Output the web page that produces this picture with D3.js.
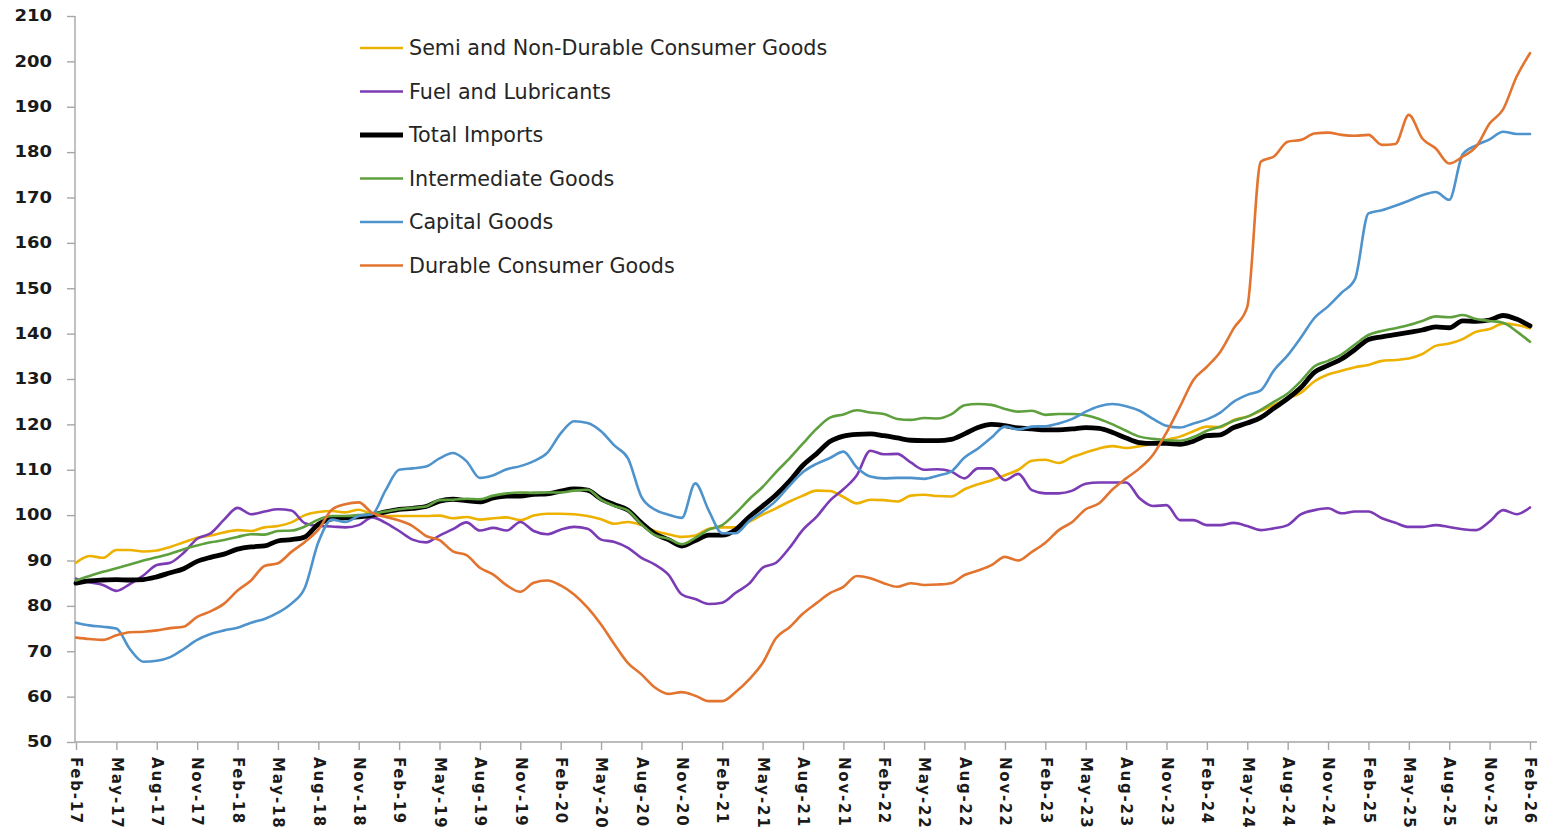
<!DOCTYPE html>
<meta charset="utf-8">
<style>
body { margin: 0; background: #fff; }
.axis line, .axis-line { stroke: #a6a6a6; stroke-width: 1.4px; }
.axis text { font: bold 15px "DejaVu Sans", sans-serif; fill: #1a1a1a; }
.legend text { font: 20.7px "DejaVu Sans", sans-serif; fill: #262626; }
.series { fill: none; stroke-linejoin: round; stroke-linecap: round; }
</style>
<svg width="1547" height="839"></svg>
<script src="https://d3js.org/d3.v7.min.js"></script>
<script>

// monthly index values, Feb-17 .. Feb-26 (109 months)
var semi = [89.5, 91, 90.6, 92.3, 92.3, 92, 92.2, 93, 94, 95, 95.5, 96.2,
  96.7, 96.5, 97.3, 97.6, 98.4, 100, 100.7, 100.9, 100.6, 101.2, 100.2, 99.8,
  99.8, 99.8, 99.8, 99.9, 99.3, 99.6, 99, 99.3, 99.5, 98.9, 99.9, 100.3,
  100.3, 100.2, 99.8, 99.1, 98.1, 98.5, 97.8, 96.5, 95.8, 95.2, 95.5, 97,
  97.3, 97.3, 98.5, 100.1, 101.5, 103, 104.3, 105.4, 105.3, 104, 102.6, 103.4,
  103.3, 103, 104.3, 104.5, 104.2, 104.1, 105.7, 106.8, 107.7, 108.8, 110, 112,
  112.2, 111.5, 112.8, 113.8, 114.7, 115.2, 114.8, 115.2, 115.8, 116.6, 117.3, 118.5,
  119.5, 119.4, 121, 121.7, 123, 124.3, 125.7, 127, 129.5, 131, 131.8, 132.6,
  133.1, 134, 134.2, 134.5, 135.5, 137.3, 137.8, 138.8, 140.4, 141, 142.2, 141.9,
  141.2];

var fuel = [86, 85.2, 84.6, 83.3, 84.8, 86.7, 89, 89.5, 91.7, 94.8, 96, 99,
  101.6, 100.2, 100.8, 101.3, 101, 98.2, 97.6, 97.5, 97.3, 97.8, 99.5, 98.3,
  96.5, 94.6, 94, 95.5, 96.9, 98.4, 96.6, 97.2, 96.6, 98.5, 96.5, 95.8,
  96.8, 97.4, 97, 94.6, 94.1, 92.8, 90.6, 89.1, 86.9, 82.5, 81.5, 80.4,
  80.7, 82.9, 84.9, 88.4, 89.5, 92.8, 96.8, 99.6, 103.2, 105.7, 108.8, 114.2,
  113.4, 113.5, 111.6, 110, 110.1, 109.6, 108.1, 110.3, 110.3, 107.7, 109.1, 105.5,
  104.8, 104.8, 105.4, 106.9, 107.2, 107.2, 107.2, 103.7, 102, 102.2, 98.9, 98.9,
  97.8, 97.8, 98.3, 97.6, 96.7, 97.1, 97.8, 100.2, 101.1, 101.5, 100.4, 100.8,
  100.8, 99.3, 98.3, 97.4, 97.4, 97.8, 97.4, 96.9, 96.7, 98.6, 101.1, 100.2,
  101.7];

var total = [85, 85.5, 85.7, 85.8, 85.7, 85.8, 86.4, 87.3, 88.2, 89.8, 90.7, 91.4,
  92.5, 93, 93.2, 94.3, 94.6, 95.2, 98, 99.2, 99.4, 99.6, 100, 100.7,
  101.25, 101.5, 101.9, 103.1, 103.5, 103.2, 102.9, 103.8, 104.2, 104.2, 104.6, 104.7,
  105.3, 105.8, 105.5, 103.6, 102.3, 101.1, 98.3, 95.9, 94.6, 93.2, 94.4, 95.6,
  95.6, 96.8, 99.6, 102, 104.5, 107.5, 111, 113.5, 116.2, 117.4, 117.8, 117.9,
  117.5, 117, 116.5, 116.4, 116.4, 116.7, 117.9, 119.3, 120, 119.7, 119.2, 119,
  118.8, 118.8, 119, 119.3, 119.1, 118.2, 117, 116, 115.8, 115.8, 115.6, 116.3,
  117.5, 117.7, 119.3, 120.3, 121.5, 123.6, 125.7, 128.2, 131.5, 133, 134.4, 136.5,
  138.7, 139.3, 139.8, 140.3, 140.8, 141.5, 141.3, 142.8, 142.7, 143, 144, 143.2,
  141.7];

var intermediate = [85.6, 86.6, 87.5, 88.3, 89.1, 90, 90.7, 91.5, 92.5, 93.3, 94, 94.5,
  95.2, 95.8, 95.7, 96.5, 96.6, 97.5, 99, 99.8, 99.8, 100, 100.3, 100.8,
  101.3, 101.6, 101.9, 103.3, 103.4, 103.6, 103.5, 104.3, 104.8, 105, 104.9, 105,
  105, 105.4, 105.6, 103.4, 102, 101, 98, 95.6, 94.8, 93.6, 95, 96.8,
  97.8, 100.4, 103.5, 106.2, 109.5, 112.5, 115.8, 119, 121.5, 122.2, 123.1, 122.6,
  122.3, 121.2, 121, 121.4, 121.3, 122.2, 124.2, 124.5, 124.3, 123.4, 122.8, 123,
  122.1, 122.3, 122.3, 122, 121.2, 120, 118.6, 117.3, 116.8, 116.5, 116.4, 117.2,
  118.6, 119.5, 120.8, 121.7, 123.2, 125, 126.8, 129.6, 132.8, 134, 135.4, 137.6,
  139.7, 140.6, 141.2, 141.9, 142.8, 143.8, 143.6, 144.1, 143.2, 142.8, 142.4, 140.5,
  138.2];

var capital = [76.3, 75.7, 75.4, 75, 70.5, 67.7, 67.9, 68.7, 70.5, 72.5, 73.8, 74.6,
  75.2, 76.3, 77.1, 78.5, 80.5, 84, 94, 99, 98.5, 99.8, 100.2, 105.5,
  110, 110.3, 110.7, 112.5, 113.7, 111.9, 108.2, 108.8, 110.1, 110.8, 111.9, 113.7,
  118, 120.7, 120.3, 118.5, 115.3, 112.5, 104, 101.2, 100.1, 99.4, 107, 101,
  96, 96, 98.7, 100.8, 103.2, 106.5, 109.5, 111.3, 112.6, 114, 110.5, 108.5,
  108.1, 108.2, 108.2, 108, 108.7, 109.6, 112.7, 114.7, 117.1, 119.5, 118.9, 119.5,
  119.6, 120.2, 121.2, 122.8, 124, 124.5, 124, 123, 121.2, 119.7, 119.3, 120.2,
  121.1, 122.6, 125, 126.5, 127.5, 132, 135.2, 139.2, 143.5, 146, 149, 152,
  166.5, 167.2, 168.2, 169.3, 170.5, 171.2, 169.5, 179.5, 181.5, 182.8, 184.5, 184,
  184];

var durable = [73, 72.7, 72.5, 73.5, 74.2, 74.3, 74.6, 75.1, 75.4, 77.6, 78.8, 80.5,
  83.4, 85.6, 88.8, 89.4, 91.9, 94.1, 96.8, 101.2, 102.4, 102.8, 100.5, 99.6,
  98.8, 97.6, 95.4, 94.5, 92, 91.2, 88.4, 86.9, 84.5, 83.1, 85.1, 85.6,
  84.5, 82.5, 79.6, 75.9, 71.5, 67.4, 64.9, 62, 60.6, 61, 60.2, 59,
  59, 61, 63.8, 67.4, 72.9, 75.3, 78.3, 80.6, 82.8, 84.2, 86.6, 86.1,
  85, 84.2, 85, 84.6, 84.7, 85, 86.8, 87.8, 89, 90.8, 90, 91.9,
  93.9, 96.7, 98.5, 101.3, 102.6, 105.7, 108.1, 110.3, 113.3, 118.2, 123.9, 129.8,
  132.7, 136, 141.2, 145.9, 177.9, 179.1, 182.3, 182.7, 184.1, 184.3, 183.8, 183.6,
  183.8, 181.6, 181.8, 188.2, 183, 180.8, 177.5, 179, 181.2, 186.3, 189.4, 196.6,
  201.8];

var tickLabels = ["Feb-17", "May-17", "Aug-17", "Nov-17", "Feb-18", "May-18", "Aug-18", "Nov-18",
  "Feb-19", "May-19", "Aug-19", "Nov-19", "Feb-20", "May-20", "Aug-20", "Nov-20",
  "Feb-21", "May-21", "Aug-21", "Nov-21", "Feb-22", "May-22", "Aug-22", "Nov-22",
  "Feb-23", "May-23", "Aug-23", "Nov-23", "Feb-24", "May-24", "Aug-24", "Nov-24",
  "Feb-25", "May-25", "Aug-25", "Nov-25", "Feb-26"];

var yTicks = [50, 60, 70, 80, 90, 100, 110, 120, 130, 140, 150, 160, 170, 180, 190, 200, 210];

var seriesNames = ["Semi and Non-Durable Consumer Goods", "Fuel and Lubricants", "Total Imports",
  "Intermediate Goods", "Capital Goods", "Durable Consumer Goods"];

var series = [
  {name: seriesNames[0], values: semi, color: "#edb100", width: 2.6},
  {name: seriesNames[1], values: fuel, color: "#7b3bb5", width: 2.6},
  {name: seriesNames[2], values: total, color: "#000000", width: 4.8},
  {name: seriesNames[3], values: intermediate, color: "#5fa03e", width: 2.6},
  {name: seriesNames[4], values: capital, color: "#4f93cc", width: 2.6},
  {name: seriesNames[5], values: durable, color: "#e2742f", width: 2.6}
];

var svg = d3.select("svg");

var x = d3.scaleLinear().domain([0, semi.length - 1]).range([76, 1530]);
var y = d3.scaleLinear().domain([50, 210]).range([742, 16]);

// y axis
var gy = svg.append("g")
    .attr("class", "axis")
    .attr("transform", "translate(75,0)")
    .call(d3.axisLeft(y).tickValues(yTicks).tickSize(8).tickPadding(15));
gy.select(".domain").remove();
gy.selectAll("text").each(function() {
  var w = this.getComputedTextLength();
  d3.select(this).attr("textLength", w * 1.2).attr("lengthAdjust", "spacingAndGlyphs");
});

// x axis
var gx = svg.append("g")
    .attr("class", "axis")
    .attr("transform", "translate(0,742)")
    .call(d3.axisBottom(x)
      .tickValues(d3.range(0, semi.length, 3))
      .tickFormat(function(d, i) { return tickLabels[i]; })
      .tickSize(8));
gx.select(".domain").remove();
gx.selectAll("text")
    .attr("transform", "rotate(90)")
    .attr("x", 15)
    .attr("y", 0)
    .attr("dy", "0.35em")
    .style("text-anchor", "start")
    .style("font-size", "15px")
    .each(function() {
      var w = this.getComputedTextLength();
      d3.select(this).attr("textLength", w * 1.15).attr("lengthAdjust", "spacing");
    });

svg.append("line").attr("class", "axis-line")
    .attr("x1", 75).attr("x2", 75).attr("y1", y(210)).attr("y2", y(50));
svg.append("line").attr("class", "axis-line")
    .attr("x1", 75).attr("x2", 1537).attr("y1", y(50)).attr("y2", y(50));

var line = d3.line()
    .x(function(d, i) { return x(i); })
    .y(function(d) { return y(d); })
    .curve(d3.curveMonotoneX);

svg.selectAll(".series")
    .data(series)
  .enter().append("path")
    .attr("class", "series")
    .attr("d", function(d) { return line(d.values); })
    .attr("stroke", function(d) { return d.color; })
    .attr("stroke-width", function(d) { return d.width; });

// legend
var legend = svg.append("g").attr("class", "legend");
var item = legend.selectAll("g")
    .data(series)
  .enter().append("g")
    .attr("transform", function(d, i) { return "translate(360," + (48 + i * 43.5) + ")"; });

item.append("line")
    .attr("x1", 0).attr("x2", 43)
    .attr("stroke", function(d) { return d.color; })
    .attr("stroke-width", function(d) { return d.width; });

item.append("text")
    .attr("x", 49)
    .attr("dy", "0.35em")
    .text(function(d) { return d.name; });

</script>
